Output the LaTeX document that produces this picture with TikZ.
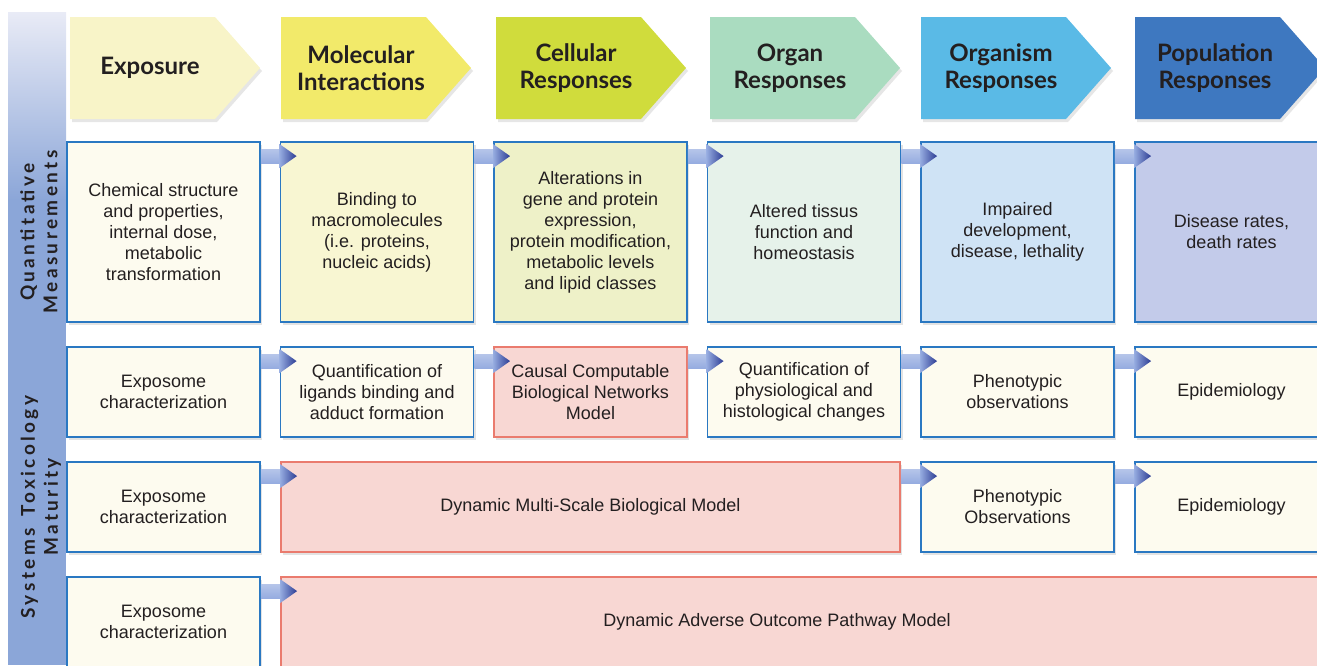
\documentclass[tikz,border=0pt]{standalone}
\usepackage{fontspec}
\setmainfont{Liberation Sans}
\newfontfamily\headfont{Lato}
\newfontfamily\sidefont[LetterSpace=18]{Lato}
\usetikzlibrary{calc,shadows}
\definecolor{ink}{RGB}{35,31,32}
\definecolor{frame}{RGB}{42,120,194}
\definecolor{pinkframe}{RGB}{234,123,110}
\definecolor{pinkfill}{RGB}{248,215,211}
\definecolor{cream}{RGB}{253,251,239}
\definecolor{hdA}{RGB}{248,244,200}
\definecolor{hdB}{RGB}{242,234,106}
\definecolor{hdC}{RGB}{208,220,60}
\definecolor{hdD}{RGB}{170,220,192}
\definecolor{hdE}{RGB}{90,186,230}
\definecolor{hdF}{RGB}{62,120,192}
\definecolor{qB}{RGB}{248,246,210}
\definecolor{qC}{RGB}{238,241,200}
\definecolor{qD}{RGB}{230,242,234}
\definecolor{qE}{RGB}{207,227,245}
\definecolor{qF}{RGB}{195,203,234}
\definecolor{barblue}{RGB}{139,166,216}
\definecolor{barpale}{RGB}{233,235,246}
\definecolor{arrlight}{RGB}{150,172,224}
\definecolor{arrdark}{RGB}{44,60,148}
\tikzset{
  box/.style={draw=frame, line width=1.8pt, fill=cream, minimum width=193,
              text=ink, align=center, font=\fontsize{18}{21}\selectfont,
              drop shadow={shadow xshift=2pt, shadow yshift=-3pt, opacity=.22}},
  pinkbox/.style={box, draw=pinkframe, fill=pinkfill},
  head/.style={text=ink, align=center, font=\headfont\bfseries\fontsize{24}{27}\selectfont},
  side/.style={text=ink, align=center, rotate=90, font=\sidefont\bfseries\fontsize{19}{23}\selectfont},
  chevron/.style={drop shadow={shadow xshift=2pt, shadow yshift=-3pt, opacity=.2}},
  barfill/.style={top color=arrlight!70!white, bottom color=arrlight},
  tipfill/.style={left color=arrlight, right color=arrdark},
}

\begin{document}
\begin{tikzpicture}[x=1pt,y=-1pt]
  \useasboundingbox (0,0) rectangle (1317,665);
  % left band
  \shade[top color=barpale, bottom color=barblue] (8,12) rectangle (66,200);
  \fill[barblue] (8,199) rectangle (66,665);
  \node[side] (sq) at (39,232) {Quantitative\\Measurements};
  \node[side] (ss) at (41,507) {Systems\hspace{4pt} Toxicology\\Maturity};
  % header chevrons
  \foreach \x/\c/\t in {70/hdA/{Exposure}, 281/hdB/{Molecular\\Interactions},
      496/hdC/{Cellular\\Responses}, 710/hdD/{Organ\\Responses},
      921/hdE/{Organism\\Responses}, 1135/hdF/{Population\\Responses}} {
    \fill[\c, chevron] (\x,17) -- (\x+145,17) -- (\x+190,68) -- (\x+145,119) -- (\x,119) -- cycle;
    \node[head] (h\x) at (\x+80,68) {\t};
  }
  % quantitative measurements
  \node[box, minimum height=180] (q1) at (163.5,232)
    {Chemical structure\\and properties,\\internal dose,\\metabolic\\transformation};
  \node[box, minimum height=180, fill=qB] (q2) at (377,232)
    {Binding to\\macromolecules\\(i.e. proteins,\\nucleic acids)};
  \node[box, minimum height=180, fill=qC] (q3) at (590.5,232)
    {Alterations in\\gene and protein\\expression,\\protein modification,\\metabolic levels\\and lipid classes};
  \node[box, minimum height=180, fill=qD] (q4) at (804,232)
    {Altered tissus\\function and\\homeostasis};
  \node[box, minimum height=180, fill=qE] (q5) at (1017.5,232)
    {Impaired\\development,\\disease, lethality};
  \node[box, minimum height=180, fill=qF] (q6) at (1231.5,232)
    {Disease rates,\\death rates};
  % maturity rows
  \node[box, minimum height=90] (a1) at (163.5,392) {Exposome\\characterization};
  \node[box, minimum height=90] (a2) at (377,392) {Quantification of\\ligands binding and\\adduct formation};
  \node[pinkbox, minimum height=90] (a3) at (590.5,392) {Causal Computable\\Biological Networks\\Model};
  \node[box, minimum height=90] (a4) at (804,392) {Quantification of\\physiological and\\histological changes};
  \node[box, minimum height=90] (a5) at (1017.5,392) {Phenotypic\\observations};
  \node[box, minimum height=90] (a6) at (1231.5,392) {Epidemiology};
  \node[box, minimum height=90] (b1) at (163.5,507) {Exposome\\characterization};
  \node[pinkbox, minimum height=90, minimum width=619] (b2) at (590.5,507) {Dynamic Multi-Scale Biological Model};
  \node[box, minimum height=90] (b5) at (1017.5,507) {Phenotypic\\Observations};
  \node[box, minimum height=90] (b6) at (1231.5,507) {Epidemiology};
  \node[box, minimum height=90] (c1) at (163.5,622) {Exposome\\characterization};
  \node[pinkbox, minimum height=90, minimum width=1050] (c2) at (806,622) {};
  \node[text=ink, font=\fontsize{18}{21}\selectfont] (c2t) at (777,622) {Dynamic Adverse Outcome Pathway Model};
  % block arrows
  \foreach \a/\b in {q1/q2,q2/q3,q3/q4,q4/q5,q5/q6,a1/a2,a2/a3,a3/a4,a4/a5,a5/a6,
      b1/b2,b2/b5,b5/b6,c1/c2} {
    \shade[barfill] ($(\a.north east)+(0,8)$) rectangle ($(\b.north west)+(1,22)$);
    \shade[tipfill] ($(\b.north west)+(0,3)$) -- ($(\b.north west)+(17,15)$)
      -- ($(\b.north west)+(0,27)$) -- cycle;
  }
\end{tikzpicture}
\end{document}
